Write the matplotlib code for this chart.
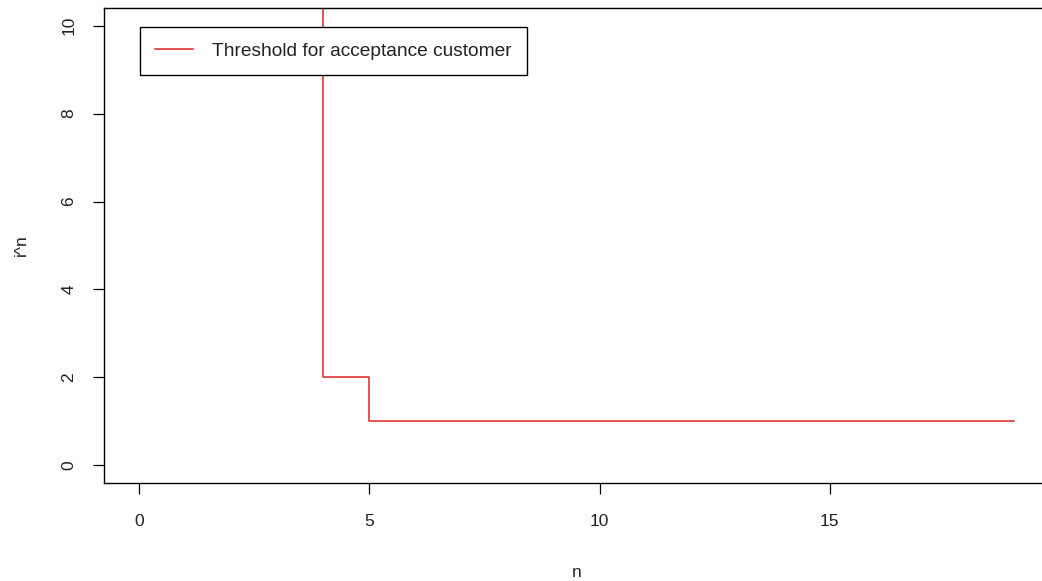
import matplotlib
matplotlib.use("Agg")
import matplotlib.pyplot as plt

# threshold i^n for acceptance of the n-th customer (values before n=4 run off the top)
n = [3, 4, 5, 6, 7, 8, 9, 10, 11, 12, 13, 14, 15, 16, 17, 18, 19]
i_n = [20, 2, 1, 1, 1, 1, 1, 1, 1, 1, 1, 1, 1, 1, 1, 1, 1]
x_ticks = [0, 5, 10, 15]
y_ticks = [0, 2, 4, 6, 8, 10]

plt.rcParams["font.family"] = ["Liberation Sans", "DejaVu Sans"]

W, H = 1042, 581
fig = plt.figure(figsize=(W / 100, H / 100), dpi=100)
ax = fig.add_axes([104 / W, (H - 483) / H, (1049 - 104) / W, (483 - 8) / H])

# R type="s": horizontal first, then vertical
ax.step(n, i_n, where="post", color="#dd2424", lw=1.1,
        label="Threshold for acceptance customer")

ax.set_xlim(-0.76, 19.76)
ax.set_ylim(-0.4, 10.4)
ax.set_xticks(x_ticks)
ax.set_yticks(y_ticks)
ax.tick_params(direction="out", length=8, width=0.9, labelsize=12.5, labelcolor="#222222")
ax.tick_params(axis="x", pad=14)
ax.tick_params(axis="y", pad=12)
for lab in ax.get_yticklabels():
    lab.set_rotation(90)
    lab.set_va("center")
for sp in ax.spines.values():
    sp.set_linewidth(1.0)

ax.set_xlabel("n", fontsize=12.5, color="#222222", labelpad=26)
ax.set_ylabel("i^n", fontsize=12.5, color="#222222", labelpad=23)

# legend box is opaque in the original, it hides the red line behind it
leg = ax.legend(loc="upper left", bbox_to_anchor=(36 / 945, 1 - 19 / 475),
                fontsize=13.8, frameon=True, fancybox=False, edgecolor="black",
                framealpha=1.0, handlelength=1.95, handletextpad=1.0,
                borderpad=0.8, borderaxespad=0)
leg.get_frame().set_linewidth(1.0)
for t in leg.get_texts():
    t.set_color("#222222")

fig.savefig("out.png", dpi=100)
